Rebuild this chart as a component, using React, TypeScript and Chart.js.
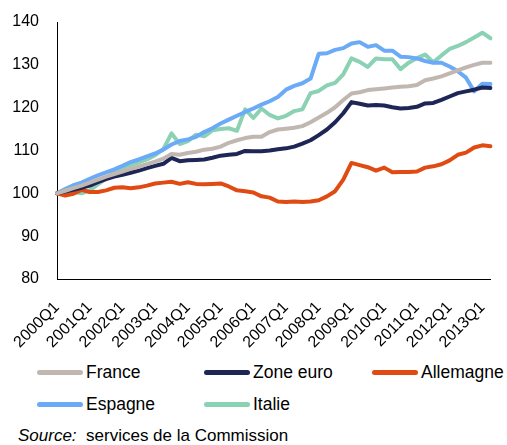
import React, { useEffect, useRef } from "react";
import { Chart, registerables } from "chart.js";

Chart.register(...registerables);

const quarters = [
  "2000Q1", "2000Q2", "2000Q3", "2000Q4", "2001Q1", "2001Q2", "2001Q3", "2001Q4",
  "2002Q1", "2002Q2", "2002Q3", "2002Q4", "2003Q1", "2003Q2", "2003Q3", "2003Q4",
  "2004Q1", "2004Q2", "2004Q3", "2004Q4", "2005Q1", "2005Q2", "2005Q3", "2005Q4",
  "2006Q1", "2006Q2", "2006Q3", "2006Q4", "2007Q1", "2007Q2", "2007Q3", "2007Q4",
  "2008Q1", "2008Q2", "2008Q3", "2008Q4", "2009Q1", "2009Q2", "2009Q3", "2009Q4",
  "2010Q1", "2010Q2", "2010Q3", "2010Q4", "2011Q1", "2011Q2", "2011Q3", "2011Q4",
  "2012Q1", "2012Q2", "2012Q3", "2012Q4", "2013Q1", "2013Q2",
];

const france = [
  100, 100.6, 101.2, 101.8, 102.5, 103.2, 103.9, 104.5, 105.1, 105.7,
  106.2, 106.8, 107.4, 108.1, 109.2, 109.0, 109.4, 109.7, 110.2, 110.4,
  110.9, 111.8, 112.4, 112.9, 113.2, 113.2, 114.3, 114.9, 115.1, 115.3,
  115.7, 116.6, 117.7, 118.8, 120.1, 121.8, 123.3, 123.6, 124.1, 124.3,
  124.5, 124.7, 124.9, 125.0, 125.3, 126.4, 126.8, 127.3, 128.0, 128.7,
  129.4, 130.0, 130.5, 130.5,
];

const zoneEuro = [
  100, 100.4, 100.8, 101.3, 101.8, 102.6, 103.3, 103.9, 104.3, 104.8,
  105.3, 105.9, 106.4, 106.9, 108.3, 107.5, 107.7, 107.8, 107.9, 108.3,
  108.8, 109.0, 109.2, 109.9, 109.8, 109.8, 110.0, 110.3, 110.5, 110.9,
  111.6, 112.4, 113.6, 114.9, 116.6, 118.7, 121.3, 120.9, 120.5, 120.6,
  120.5, 120.1, 119.8, 119.9, 120.2, 121.0, 121.1, 121.8, 122.6, 123.4,
  123.8, 124.2, 124.7, 124.6,
];

const allemagne = [
  100, 99.5, 99.9, 100.8, 100.3, 100.3, 100.7, 101.3, 101.4, 101.2,
  101.4, 101.8, 102.3, 102.5, 102.7, 102.2, 102.6, 102.2, 102.1, 102.2,
  102.3, 101.6, 100.7, 100.5, 100.2, 99.3, 99.0, 98.1, 98.0, 98.1,
  98.0, 98.1, 98.4, 99.3, 100.5, 103.2, 107.1, 106.6, 106.1, 105.3,
  106.0, 104.9, 105.0, 105.0, 105.1, 106.0, 106.3, 106.8, 107.7, 109.0,
  109.5, 110.7, 111.2, 111.0,
];

const espagne = [
  100, 101.0, 101.9, 102.5, 103.4, 104.2, 104.9, 105.6, 106.4, 107.3,
  107.9, 108.6, 109.3, 110.2, 111.4, 112.2, 112.6, 113.2, 114.3, 115.2,
  116.3, 117.2, 118.1, 119.0, 119.8, 120.7, 121.5, 122.5, 124.2, 125.1,
  125.7, 126.8, 132.6, 132.7, 133.5, 133.9, 135.0, 135.3, 134.2, 134.6,
  133.3, 133.3, 131.9, 131.8, 131.5, 130.9, 130.5, 130.5, 129.6, 128.5,
  127.0, 123.8, 125.6, 125.5,
];

const italie = [
  100, 100.3, 100.3, 100.0, 100.7, 102.1, 103.5, 105.0, 105.9, 106.6,
  107.2, 107.9, 108.9, 110.3, 114.0, 111.5, 112.2, 113.7, 113.3, 114.7,
  115.0, 115.2, 114.6, 119.6, 117.6, 119.8, 118.3, 117.5, 118.1, 119.2,
  119.6, 123.4, 123.9, 125.2, 125.8, 127.8, 131.5, 130.7, 129.5, 131.5,
  131.3, 131.3, 129.0, 130.5, 131.6, 132.4, 130.6, 132.2, 133.7, 134.4,
  135.3, 136.4, 137.5, 136.2,
];

const seriesNames = ["France", "Zone euro", "Allemagne", "Espagne", "Italie"];
const seriesColors = ["#c0b7b1", "#1e2656", "#df4b12", "#6aaaf6", "#8bd1b3"];
const seriesData = [france, zoneEuro, allemagne, espagne, italie];

const yTicks = [80, 90, 100, 110, 120, 130, 140];

const FONT = "'Liberation Sans', Arial, sans-serif";

export default function App() {
  const canvasRef = useRef<HTMLCanvasElement | null>(null);

  useEffect(() => {
    const canvas = canvasRef.current;
    if (!canvas) return;
    const chart = new Chart(canvas, {
      type: "line",
      data: {
        labels: quarters,
        datasets: seriesNames.map((name, i) => ({
          label: name,
          data: seriesData[i],
          borderColor: seriesColors[i],
          backgroundColor: seriesColors[i],
          borderWidth: 4,
          pointRadius: 0,
          tension: 0,
          fill: false,
          borderCapStyle: "round",
          borderJoinStyle: "round",
        })),
      },
      options: {
        animation: false,
        responsive: false,
        maintainAspectRatio: false,
        layout: { padding: { top: 22, right: 4, left: 0, bottom: 0 } },
        plugins: {
          legend: { display: false },
          tooltip: { enabled: false },
        },
        scales: {
          x: {
            grid: { display: false },
            border: { display: true, color: "#000", width: 1 },
            ticks: {
              autoSkip: false,
              minRotation: 45,
              maxRotation: 45,
              padding: 11,
              color: "#000",
              font: { family: FONT, size: 16 },
              callback: (_v: any, i: number) =>
                quarters[i].endsWith("Q1") ? quarters[i] : null,
            },
            afterFit: (s: any) => {
              s.height = 76;
            },
          },
          y: {
            min: yTicks[0],
            max: yTicks[yTicks.length - 1],
            grid: { display: false },
            border: { display: true, color: "#000", width: 1 },
            ticks: {
              stepSize: 10,
              padding: 10,
              color: "#000",
              font: { family: FONT, size: 16 },
            },
            afterFit: (s: any) => {
              s.width = 57;
            },
          },
        },
      },
    });
    return () => chart.destroy();
  }, []);

  const rows = [
    [0, 1, 2],
    [3, 4],
  ];
  const colX = [37, 204, 372];
  const rowY = [372, 404];

  return (
    <div
      style={{
        position: "absolute",
        left: 0,
        top: 0,
        width: 507,
        height: 445,
        background: "#fff",
        fontFamily: FONT,
        color: "#000",
      }}
    >
      <canvas
        ref={canvasRef}
        width={507}
        height={355}
        style={{ position: "absolute", left: 0, top: 0, display: "block" }}
      />
      {rows.map((row, r) =>
        row.map((si, c) => (
          <div
            key={seriesNames[si]}
            style={{
              position: "absolute",
              left: colX[c],
              top: rowY[r] - 12,
              height: 24,
              display: "flex",
              alignItems: "center",
              whiteSpace: "nowrap",
            }}
          >
            <span
              style={{
                display: "inline-block",
                width: 46,
                height: 5,
                borderRadius: 3,
                background: seriesColors[si],
                marginRight: 3,
              }}
            />
            <span style={{ fontSize: 17.5 }}>{seriesNames[si]}</span>
          </div>
        ))
      )}
      <div
        style={{
          position: "absolute",
          left: 18,
          top: 424,
          fontSize: 17,
          whiteSpace: "pre",
          lineHeight: "24px",
        }}
      >
        <i>Source:</i>
        {"  services de la Commission"}
      </div>
    </div>
  );
}
